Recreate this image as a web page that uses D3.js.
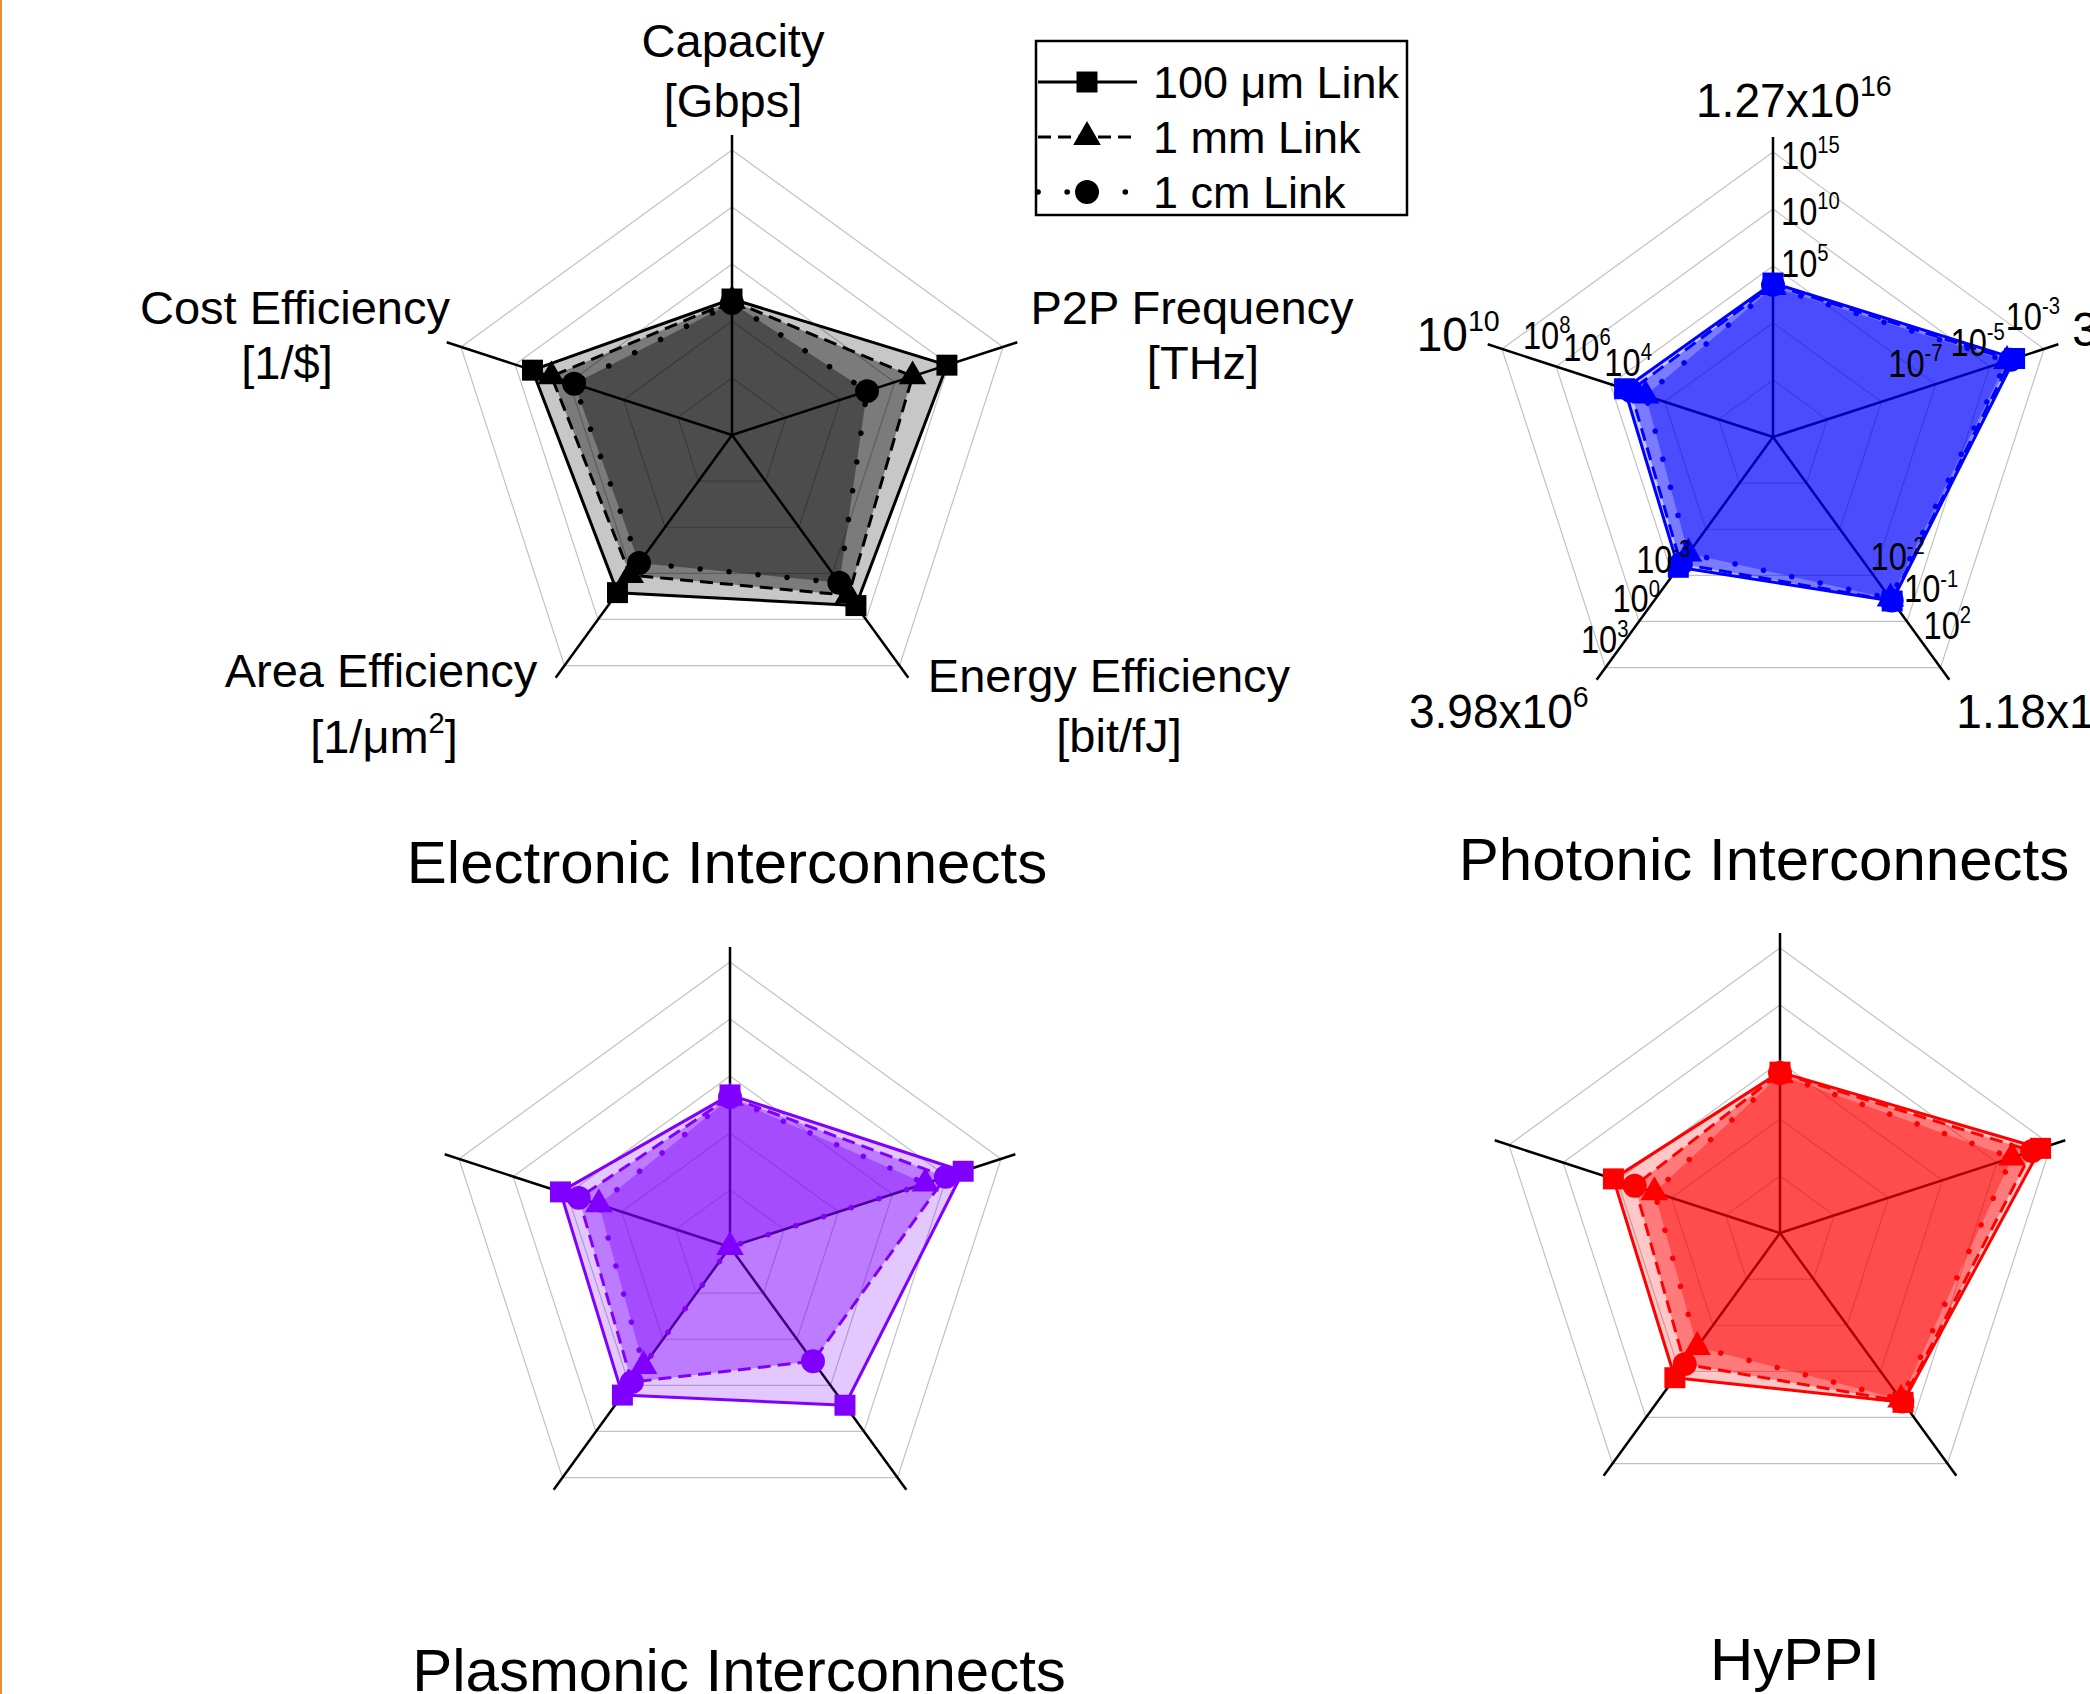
<!DOCTYPE html>
<html>
<head>
<meta charset="utf-8">
<script src="https://cdn.jsdelivr.net/npm/d3@7"></script>
<style>
  html, body { margin: 0; padding: 0; background: #ffffff; }
  svg { display: block; }
  text { font-family: "Liberation Sans", Arial, Helvetica, sans-serif; fill: #000; }
</style>
</head>
<body>
<svg id="chart" width="2090" height="1694"></svg>
<script>
// ---------- Axes (clockwise from the top) ----------
const axisNames = ["Capacity", "P2P Frequency", "Energy Efficiency", "Area Efficiency", "Cost Efficiency"];
const axisUnits = [
  [{t: "[Gbps]"}],
  [{t: "[THz]"}],
  [{t: "[bit/fJ]"}],
  [{t: "[1/\u03BCm"}, {t: "2", sup: true}, {t: "]"}],
  [{t: "[1/$]"}]
];

// Log-scale value at the centre and at each of the five grid rings, per axis
const capacityRings = [1e-10, 1e-5, 1, 1e5, 1e10, 1e15];
const p2pRings      = [1e-13, 1e-11, 1e-9, 1e-7, 1e-5, 1e-3];
const energyRings   = [1e-5, 1e-4, 1e-3, 1e-2, 1e-1, 1e2];
const areaRings     = [1e-12, 1e-9, 1e-6, 1e-3, 1, 1e3];
const costRings     = [1e-2, 1, 1e2, 1e4, 1e6, 1e8];
// Value at the tip of each axis
const axisMax = [1.27e16, 3.39e-3, 1.18e3, 3.98e6, 1e10];

// ---------- Series: [Capacity, P2P Frequency, Energy Eff., Area Eff., Cost Eff.] ----------
const seriesNames = ["100 \u03BCm Link", "1 mm Link", "1 cm Link"];

const electronic100um = [85, 8.5e-6, 0.050, 0.018, 2.3e5];
const electronic1mm   = [57, 4.6e-7, 0.030, 1.3e-3, 4.6e4];
const electronic1cm   = [38, 9.6e-9, 0.016, 2.1e-4, 6.7e3];

const photonic100um = [3.2e3, 8.2e-5, 0.036, 3.0e-4, 3.0e3];
const photonic1mm   = [2.2e3, 5.9e-5, 0.035, 1.8e-4, 1.8e3];
const photonic1cm   = [1.4e3, 4.3e-5, 0.032, 3.8e-5, 5.0e2];

const plasmonic100um = [2.2e3, 4.0e-5, 0.027, 4.3e-3, 1.8e4];
const plasmonic1mm   = [1.4e3, 9.2e-6, 3.0e-3, 6.2e-4, 3.8e3];
const plasmonic1cm   = [1.2e3, 1.6e-6, 1e-5, 5.5e-5, 6.9e2];

const hyppi100um = [1.3e4, 4.1e-4, 0.047, 2.6e-3, 1.4e4];
const hyppi1mm   = [1.1e4, 2.0e-4, 0.045, 3.4e-4, 2.3e3];
const hyppi1cm   = [7.2e3, 3.6e-5, 0.041, 2.6e-5, 4.3e2];

const chartTitles = ["Electronic Interconnects", "Photonic Interconnects", "Plasmonic Interconnects", "HyPPI"];
const chartColors = ["#000000", "#0000ff", "#8000ff", "#ff0000"];

// ---------- Geometry ----------
const svg = d3.select("#chart");
const ringR = [0, 57, 114, 171, 228, 285];
const axisR = 300;
const axisRings = [capacityRings, p2pRings, energyRings, areaRings, costRings];
const scales = axisRings.map((rings, i) =>
  d3.scaleLog().domain(rings.concat([axisMax[i]])).range(ringR.concat([axisR])).clamp(true));
const angle = i => (-90 + 72 * i) * Math.PI / 180;
const pt = (cx, cy, i, r) => [cx + r * Math.cos(angle(i)), cy + r * Math.sin(angle(i))];

const lineStyles = [
  {width: 3,   dash: null,     cap: "butt"},
  {width: 3,   dash: "13 7",   cap: "butt"},
  {width: 5.5, dash: "0.1 29", cap: "round"}
];
const fillOpacity = [0.22, 0.38, 0.38];
const symbolOf = {
  square:   d3.symbol().type(d3.symbolSquare).size(440),
  triangle: d3.symbol().type(d3.symbolTriangle).size(330),
  circle:   d3.symbol().type(d3.symbolCircle).size(450)
};

// Text with optional superscript parts; sx narrows the glyphs horizontally
function richText(g, x, y, parts, size, anchor, sx) {
  const t = g.append("text")
    .attr("transform", `translate(${x},${y}) scale(${sx || 1},1)`)
    .attr("font-size", size).attr("text-anchor", anchor || "start");
  let raised = false;
  parts.forEach(p => {
    const sp = t.append("tspan").text(p.t);
    if (p.sup && !raised) { sp.attr("font-size", size * 0.62).attr("dy", -size * 0.42); raised = true; }
    else if (!p.sup && raised) { sp.attr("dy", size * 0.42); raised = false; }
  });
  return t;
}
function sciParts(v) {
  const e = Math.floor(Math.log10(v) + 1e-9);
  const m = v / Math.pow(10, e);
  if (Math.abs(m - 1) < 1e-6) return [{t: "10"}, {t: String(e), sup: true}];
  return [{t: m.toFixed(2) + "x10"}, {t: String(e), sup: true}];
}

function drawRadar(cx, cy, color, data, markers) {
  const g = svg.append("g");
  // grid rings
  for (let k = 1; k <= 5; k++) {
    g.append("polygon")
      .attr("points", d3.range(5).map(i => pt(cx, cy, i, ringR[k]).join(",")).join(" "))
      .attr("fill", "none").attr("stroke", "#c2c2c2").attr("stroke-width", 1.2);
  }
  // spokes
  d3.range(5).forEach(i => {
    const [x2, y2] = pt(cx, cy, i, axisR);
    g.append("line").attr("x1", cx).attr("y1", cy).attr("x2", x2).attr("y2", y2)
      .attr("stroke", "#000").attr("stroke-width", 2.5);
  });
  const toPts = vals => vals.map((v, i) => pt(cx, cy, i, scales[i](v)));
  const line = d3.line().curve(d3.curveLinearClosed);
  // fills
  data.forEach((vals, s) => {
    g.append("path").attr("d", line(toPts(vals)))
      .attr("fill", color).attr("fill-opacity", fillOpacity[s]).attr("stroke", "none");
  });
  // outlines
  data.forEach((vals, s) => {
    const st = lineStyles[s];
    g.append("path").attr("d", line(toPts(vals)))
      .attr("fill", "none").attr("stroke", color).attr("stroke-width", st.width)
      .attr("stroke-dasharray", st.dash).attr("stroke-linecap", st.cap)
      .attr("stroke-linejoin", "round");
  });
  // markers
  data.forEach((vals, s) => {
    toPts(vals).forEach(([x, y]) => {
      g.append("path").attr("d", symbolOf[markers[s]]())
        .attr("transform", `translate(${x},${y})`).attr("fill", color);
    });
  });
  return g;
}

// ---------- Left border ----------
svg.append("rect").attr("x", 0).attr("y", 0).attr("width", 2).attr("height", 1694).attr("fill", "#ef8a3c");

// ---------- Four radars ----------
const layouts = [
  {cx: 732,  cy: 435,  titleX: 727,  titleY: 883,
   data: [electronic100um, electronic1mm, electronic1cm], markers: ["square", "triangle", "circle"]},
  {cx: 1773, cy: 437,  titleX: 1764, titleY: 880,
   data: [photonic100um, photonic1mm, photonic1cm], markers: ["square", "circle", "triangle"]},
  {cx: 730,  cy: 1247, titleX: 739,  titleY: 1691,
   data: [plasmonic100um, plasmonic1mm, plasmonic1cm], markers: ["square", "circle", "triangle"]},
  {cx: 1780, cy: 1233, titleX: 1795, titleY: 1680,
   data: [hyppi100um, hyppi1mm, hyppi1cm], markers: ["square", "circle", "triangle"]}
];

layouts.forEach((L, c) => {
  drawRadar(L.cx, L.cy, chartColors[c], L.data, L.markers);
  svg.append("text").attr("x", L.titleX).attr("y", L.titleY)
    .attr("font-size", 60).attr("text-anchor", "middle").text(chartTitles[c]);
});

// ---------- Axis names around the electronic radar ----------
const nameLayout = [
  {x: 733,  y: 57,  ux: 733,  uy: 117},
  {x: 1192, y: 324, ux: 1203, uy: 379},
  {x: 1109, y: 692, ux: 1119, uy: 752},
  {x: 381,  y: 687, ux: 384,  uy: 753},
  {x: 295,  y: 324, ux: 287,  uy: 379}
];
nameLayout.forEach((p, i) => {
  svg.append("text").attr("x", p.x).attr("y", p.y).attr("font-size", 47)
    .attr("text-anchor", "middle").text(axisNames[i]);
  richText(svg, p.ux, p.uy, axisUnits[i], 47, "middle");
});

// ---------- Tick labels on the photonic radar (rings 3, 4, 5) ----------
const P = layouts[1];
const tickOffsets = [
  {anchor: "start", off: [[8, 11], [8, 16], [8, 17]]},
  {anchor: "end",   off: [[7, -7], [15, -11], [16, -19]]},
  {anchor: "start", off: [[-3, -5], [-3, -19], [-17, -29]]},
  {anchor: "end",   off: [[18, -2], [21, -9], [23, -15]]},
  {anchor: "start", off: [[-6, -8], [7, -6], [21, 0]]}
];
axisRings.forEach((rings, i) => {
  [3, 4, 5].forEach((k, j) => {
    const [x, y] = pt(P.cx, P.cy, i, ringR[k]);
    const o = tickOffsets[i].off[j];
    richText(svg, x + o[0], y + o[1], sciParts(rings[k]), 38, tickOffsets[i].anchor, 0.86);
  });
});
// Axis-tip labels
const tipLayout = [
  {anchor: "start", dx: -77, dy: -20},
  {anchor: "start", dx: 14,  dy: 2},
  {anchor: "start", dx: 7,   dy: 48},
  {anchor: "end",   dx: -8,  dy: 48},
  {anchor: "end",   dx: 12,  dy: 7}
];
axisMax.forEach((v, i) => {
  const [x, y] = pt(P.cx, P.cy, i, axisR);
  const t = tipLayout[i];
  richText(svg, x + t.dx, y + t.dy, sciParts(v), 49, t.anchor, 0.94);
});

// ---------- Legend ----------
const lg = svg.append("g");
lg.append("rect").attr("x", 1036).attr("y", 41).attr("width", 371).attr("height", 174)
  .attr("fill", "#fff").attr("stroke", "#000").attr("stroke-width", 2.5);
const legendMarkers = ["square", "triangle", "circle"];
seriesNames.forEach((name, s) => {
  const y = 82 + s * 55;
  const st = lineStyles[s];
  lg.append("line").attr("x1", 1038).attr("x2", 1137).attr("y1", y).attr("y2", y)
    .attr("stroke", "#000").attr("stroke-width", st.width)
    .attr("stroke-dasharray", st.dash).attr("stroke-linecap", st.cap);
  lg.append("path").attr("d", symbolOf[legendMarkers[s]]())
    .attr("transform", `translate(1087,${y})`).attr("fill", "#000");
  lg.append("text").attr("x", 1153).attr("y", y + 16).attr("font-size", 45).text(name);
});
</script>
</body>
</html>
